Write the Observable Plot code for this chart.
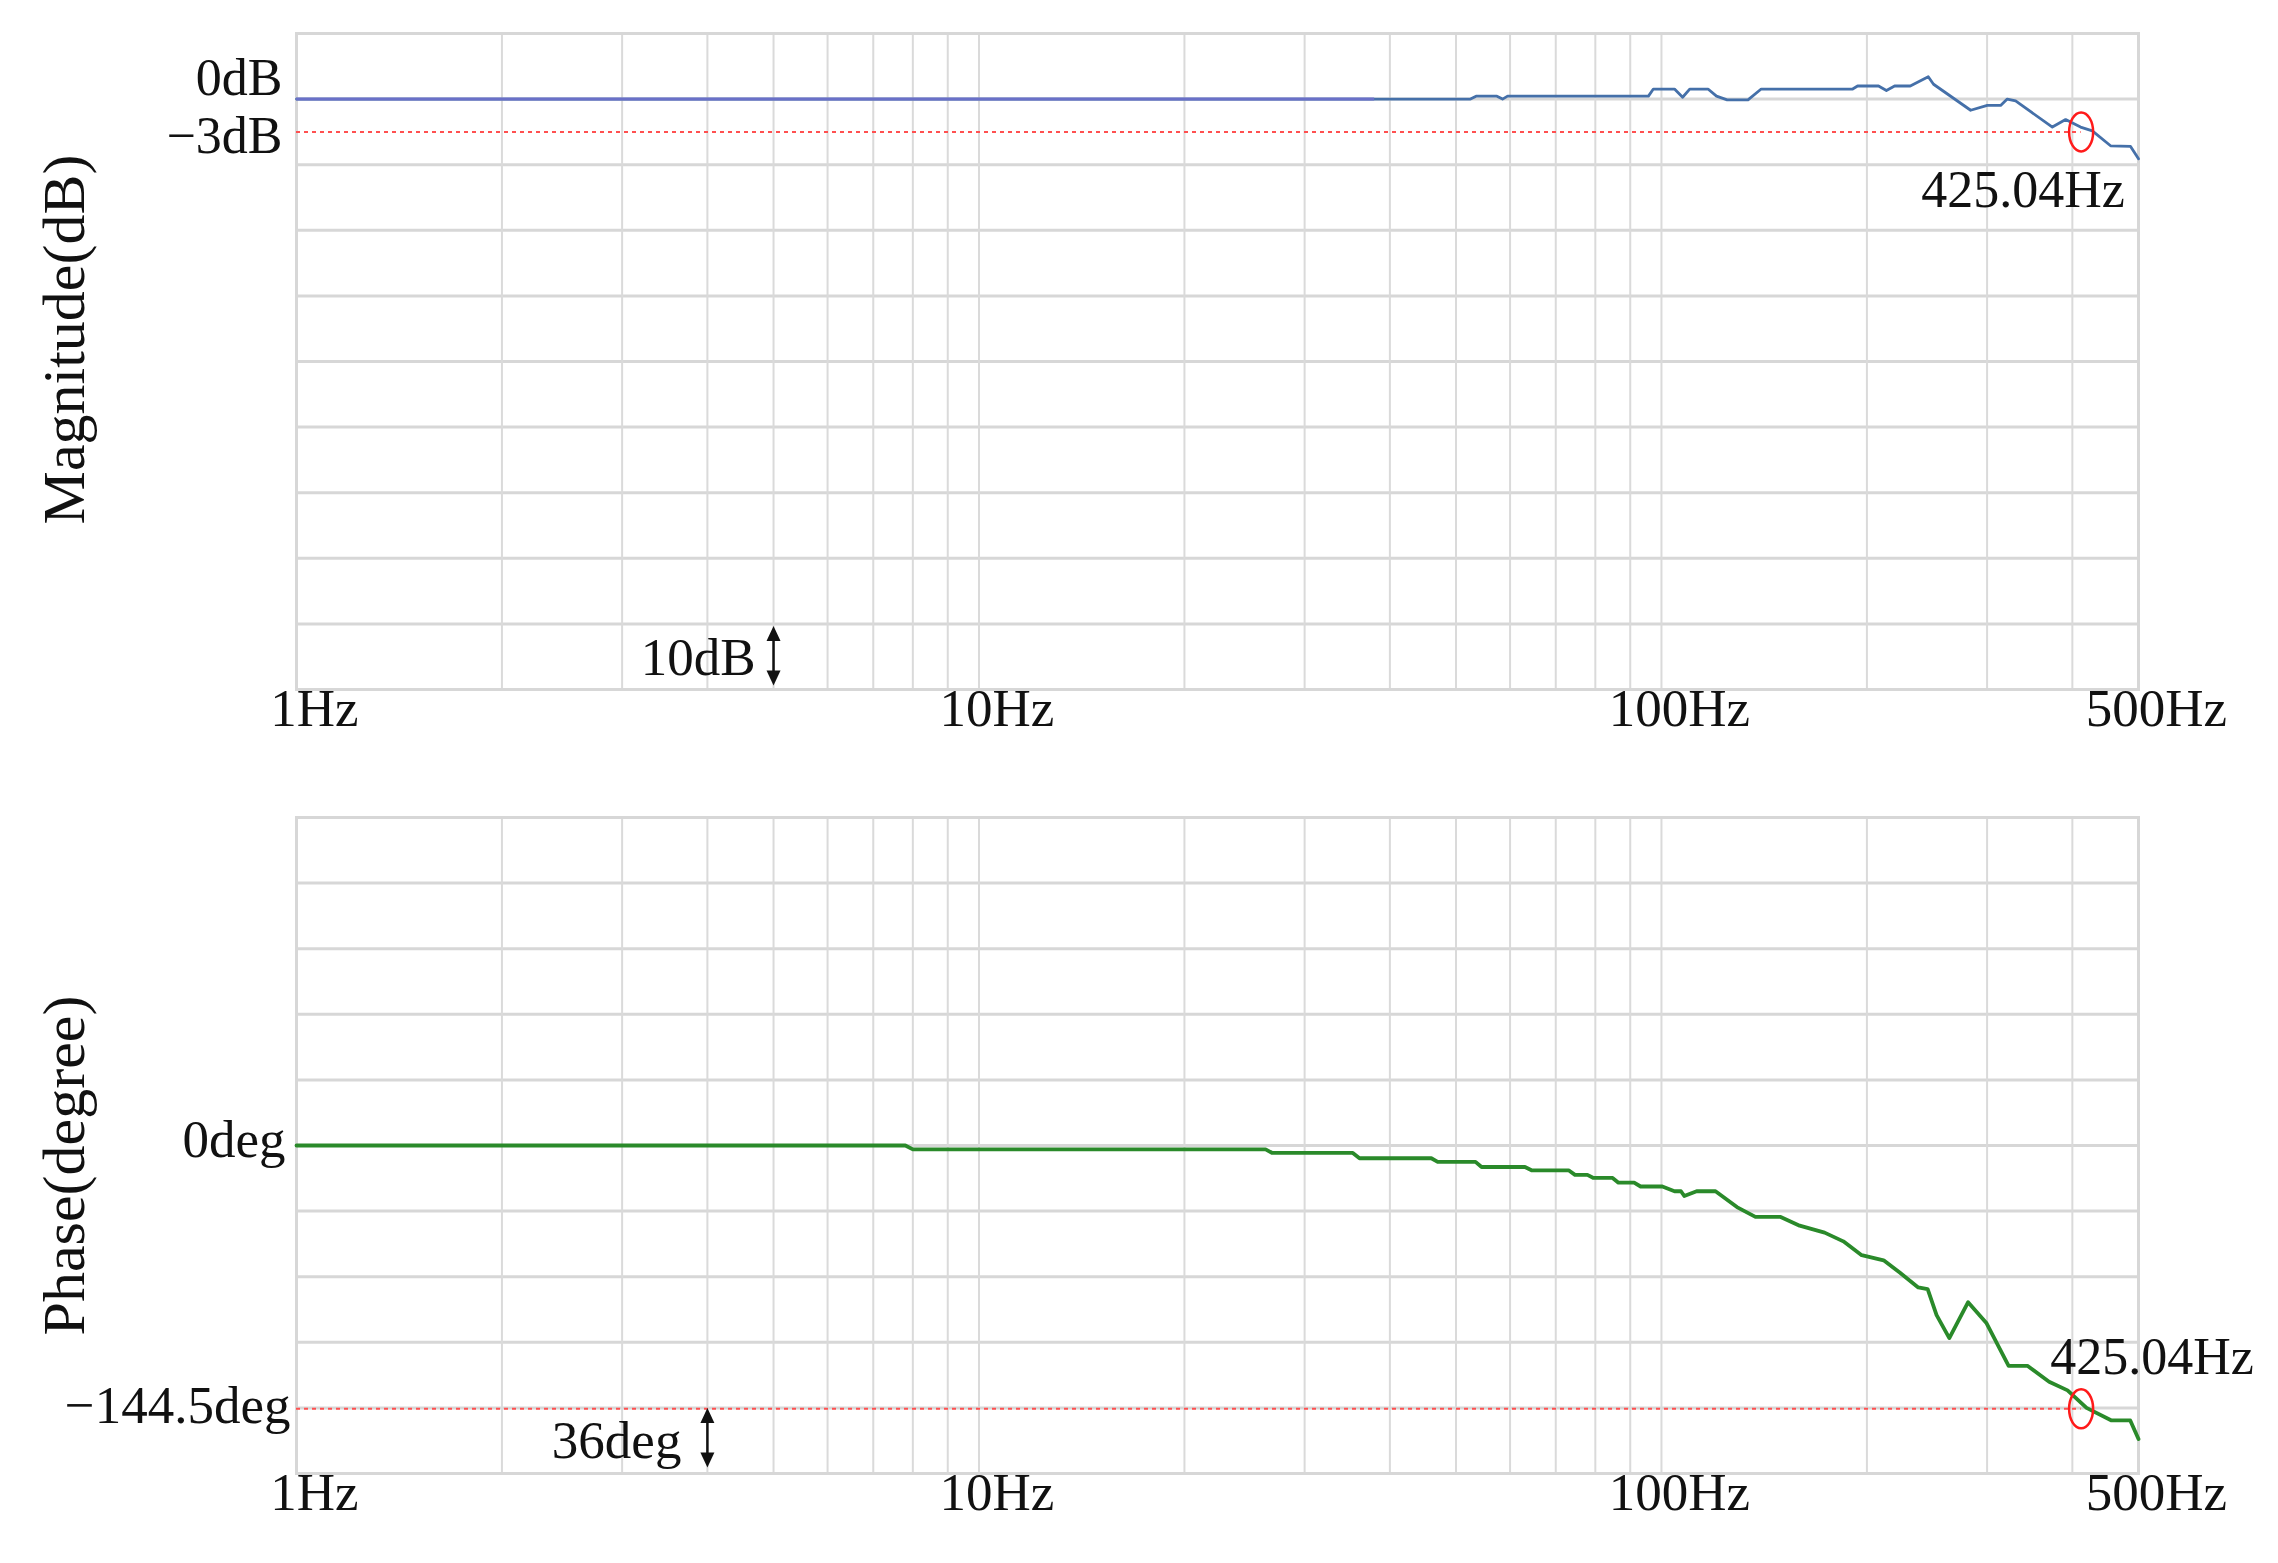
<!DOCTYPE html>
<html>
<head>
<meta charset="utf-8">
<script src="https://cdn.jsdelivr.net/npm/d3@7"></script>
<script src="https://cdn.jsdelivr.net/npm/@observablehq/plot@0.6"></script>
<style>
  html, body { margin: 0; padding: 0; background: #fff; overflow: hidden; }
  #chart svg { display: block; }
</style>
</head>
<body>
<div id="chart"></div>
<script>
// ---------------- data ----------------
const gridFreqs = [1, 2, 3, 4, 5, 6, 7, 8, 9, 10, 20, 30, 40, 50, 60, 70, 80, 90, 100, 200, 300, 400, 500];
const freqTickValues = [1, 10, 100, 500];
const freqTickLabels = ["1Hz", "10Hz", "100Hz", "500Hz"];

// magnitude response (Hz, dB)
const magFreq = [1, 52.5, 53.5, 57.4, 58.5, 59.5, 95.7, 97.3, 104.5, 107.4,
  110, 117, 120.4, 124.8, 133.9, 140, 190.6, 193.8, 208, 213.6,
  219.6, 231.5, 246, 250.4, 283.8, 300.2, 314, 321.1, 330.3, 373.9,
  391, 411.2, 427.9, 455, 486.8, 500];
const magDb = [0, 0, 0.27, 0.27, 0, 0.27, 0.27, 0.92, 0.92, 0.17,
  0.92, 0.92, 0.27, -0.07, -0.07, 0.92, 0.92, 1.2, 1.2, 0.79,
  1.2, 1.2, 2.05, 1.36, -1.02, -0.58, -0.58, 0, -0.17, -2.56,
  -1.87, -2.56, -2.9, -4.27, -4.33, -5.46];

// phase response (Hz, degree)
const phaseFreq = [1, 7.8, 8.0, 26.3, 26.9, 35.3, 36.1, 46.0, 47.0, 53.4,
  54.5, 63.1, 64.5, 73.1, 74.7, 77.9, 79.5, 84.8, 86.5, 91.2,
  93.2, 100.3, 104.5, 106.8, 108, 112.6, 120, 129, 137.3, 149.5,
  159.4, 173.4, 184.7, 196.5, 211.6, 223.4, 237.8, 245.5, 253, 264.1,
  281.4, 299.5, 322.6, 343.7, 369.8, 393.6, 419.6, 456.5, 486.3, 500];
const phaseDeg = [0, 0, -2.1, -2.1, -4.1, -4.1, -7.0, -7.0, -9.0, -9.0,
  -11.8, -11.8, -13.6, -13.6, -16.1, -16.1, -17.8, -17.8, -20.4, -20.4,
  -22.5, -22.5, -25.1, -25.1, -27.7, -25.1, -25.1, -33.8, -39.2, -39.2,
  -44, -47.8, -52.6, -60.2, -63, -69.7, -77.9, -78.8, -93.1, -105.7,
  -86, -97.6, -120.9, -120.9, -129.6, -134.4, -144, -150.9, -150.9, -161.1];

const magDomain = [-54, 6];
const magGridStep = 6;
const phaseDomain = [-180, 180];
const phaseGridStep = 36;

const magTickValues = [0, -3];
const magTickLabels = ["0dB", "\u22123dB"];
const phaseTickValues = [0, -144.5];
const phaseTickLabels = ["0deg", "\u2212144.5deg"];

const cutoffDb = -3;
const cutoffPhase = -144.5;
const cutoffMarkHz = 412;          // where the red marker sits in the picture
const cutoffLabel = "425.04Hz";
const refLineEndHz = 38;           // end of the 0 dB reference line

const magScaleBar = [{label: "10dB", freq: 5, from: -48, to: -54}];
const phaseScaleBar = [{label: "36deg", freq: 4, from: -144, to: -180}];

const magTitle = "Magnitude(dB)";
const phaseTitle = "Phase(degree)";

// ---------------- helpers ----------------
const FONT = '"Liberation Serif", "Times New Roman", Times, serif';
const W = 2278;
const GRID = "#d7d7d7";
const INK = "#111";

const magData = magFreq.map((f, i) => ({f, v: magDb[i]}));
const phaseData = phaseFreq.map((f, i) => ({f, v: phaseDeg[i]}));
const freqTicks = freqTickValues.map((f, i) => ({f, t: freqTickLabels[i]}));

const ellipse = {
  draw(ctx) {
    const rx = 12, ry = 19.5, k = 0.5523;
    ctx.moveTo(rx, 0);
    ctx.bezierCurveTo(rx, ry * k, rx * k, ry, 0, ry);
    ctx.bezierCurveTo(-rx * k, ry, -rx, ry * k, -rx, 0);
    ctx.bezierCurveTo(-rx, -ry * k, -rx * k, -ry, 0, -ry);
    ctx.bezierCurveTo(rx * k, -ry, rx, -ry * k, rx, 0);
    ctx.closePath();
  }
};
const headUp = {
  draw(ctx) { ctx.moveTo(0, 0); ctx.lineTo(7, 15); ctx.lineTo(-7, 15); ctx.closePath(); }
};
const headDown = {
  draw(ctx) { ctx.moveTo(0, 0); ctx.lineTo(7, -15); ctx.lineTo(-7, -15); ctx.closePath(); }
};

function gridValues(domain, step) {
  const out = [];
  for (let v = domain[0]; v <= domain[1] + 1e-9; v += step) out.push(v);
  return out;
}

function panel({height, marginTop, marginBottom, yDomain, gridStep, marks}) {
  return Plot.plot({
    width: W,
    height,
    marginTop,
    marginBottom,
    marginLeft: 296,
    marginRight: 140,
    x: {type: "log", domain: [1, 500], axis: null},
    y: {domain: yDomain, axis: null},
    style: {fontFamily: FONT, background: "white", color: INK, overflow: "visible"},
    marks: [
      Plot.ruleY(gridValues(yDomain, gridStep), {stroke: GRID, strokeWidth: 3}),
      Plot.ruleX(gridFreqs, {stroke: "#dadada", strokeWidth: 2}),
      Plot.frame({stroke: GRID, strokeWidth: 3}),
      ...marks,
      Plot.text(freqTicks, {x: "f", text: "t", frameAnchor: "bottom", dy: 36, dx: 18, fontSize: 53, fill: INK})
    ]
  });
}

function scaleBarMarks(bar, tipTopDy, tipBottomDy, textDx, textDy) {
  return [
    Plot.ruleX(bar, {x: "freq", y1: "from", y2: "to", stroke: INK, strokeWidth: 2.5, insetTop: 10, insetBottom: 12}),
    Plot.dot(bar, {x: "freq", y: "from", symbol: headUp, r: 6, fill: INK, stroke: "none", dy: tipTopDy}),
    Plot.dot(bar, {x: "freq", y: "to", symbol: headDown, r: 6, fill: INK, stroke: "none", dy: tipBottomDy}),
    Plot.text(bar, {x: "freq", y: d => (d.from + d.to) / 2, text: "label", textAnchor: "end",
      dx: textDx, dy: textDy, fontSize: 53, fill: INK})
  ];
}

// ---------------- magnitude panel ----------------
const magPlot = panel({
  height: 780, marginTop: 33, marginBottom: 91,
  yDomain: magDomain, gridStep: magGridStep,
  marks: [
    Plot.ruleY([{x1: 1, x2: cutoffMarkHz, y: cutoffDb}],
      {x1: "x1", x2: "x2", y: "y", stroke: "#ff5050", strokeWidth: 2, strokeDasharray: "4,4"}),
    Plot.line(magData, {x: "f", y: "v", stroke: "#4570a9", strokeWidth: 2.8}),
    Plot.ruleY([{x1: 1, x2: refLineEndHz, y: 0}],
      {x1: "x1", x2: "x2", y: "y", stroke: "#6a70c8", strokeWidth: 3}),
    Plot.dot([{f: cutoffMarkHz, v: cutoffDb}],
      {x: "f", y: "v", r: 19, symbol: ellipse, stroke: "#ff1a1a", strokeWidth: 2.5, fill: "none"}),
    Plot.text([{f: cutoffMarkHz, v: cutoffDb, t: cutoffLabel}],
      {x: "f", y: "v", text: "t", textAnchor: "middle", dx: -58, dy: 58, fontSize: 52, fill: INK}),
    Plot.text([{v: magTickValues[0], t: magTickLabels[0]}],
      {y: "v", text: "t", frameAnchor: "left", textAnchor: "end", dx: -14, dy: -21, fontSize: 52, fill: INK}),
    Plot.text([{v: magTickValues[1], t: magTickLabels[1]}],
      {y: "v", text: "t", frameAnchor: "left", textAnchor: "end", dx: -14, dy: 4, fontSize: 52, fill: INK}),
    Plot.text([magTitle], {frameAnchor: "left", rotate: -90, textAnchor: "middle",
      dx: -232, dy: -22, fontSize: 60, fill: INK}),
    ...scaleBarMarks(magScaleBar, 2, -4, -18, 1)
  ]
});

// ---------------- phase panel ----------------
const phasePlot = panel({
  height: 783, marginTop: 37, marginBottom: 90,
  yDomain: phaseDomain, gridStep: phaseGridStep,
  marks: [
    Plot.ruleY([{x1: 1, x2: cutoffMarkHz, y: cutoffPhase}],
      {x1: "x1", x2: "x2", y: "y", stroke: "#ff5050", strokeWidth: 2, strokeDasharray: "4,4"}),
    Plot.line(phaseData, {x: "f", y: "v", stroke: "#2a8a2a", strokeWidth: 3.8}),
    Plot.dot([{f: cutoffMarkHz, v: cutoffPhase}],
      {x: "f", y: "v", r: 19, symbol: ellipse, stroke: "#ff1a1a", strokeWidth: 2.5, fill: "none"}),
    Plot.text([{f: cutoffMarkHz, v: cutoffPhase, t: cutoffLabel}],
      {x: "f", y: "v", text: "t", textAnchor: "middle", dx: 71, dy: -51, fontSize: 52, fill: INK}),
    Plot.text([{v: phaseTickValues[0], t: phaseTickLabels[0]}],
      {y: "v", text: "t", frameAnchor: "left", textAnchor: "end", dx: -11, dy: -5, fontSize: 53, fill: INK}),
    Plot.text([{v: phaseTickValues[1], t: phaseTickLabels[1]}],
      {y: "v", text: "t", frameAnchor: "left", textAnchor: "end", dx: -6, dy: -3, fontSize: 53, fill: INK}),
    Plot.text([phaseTitle], {frameAnchor: "left", rotate: -90, textAnchor: "middle",
      dx: -232, dy: 20, fontSize: 60, fill: INK}),
    ...scaleBarMarks(phaseScaleBar, 0, -6, -26, 0)
  ]
});

const root = document.getElementById("chart");
root.appendChild(magPlot);
root.appendChild(phasePlot);
</script>
</body>
</html>
